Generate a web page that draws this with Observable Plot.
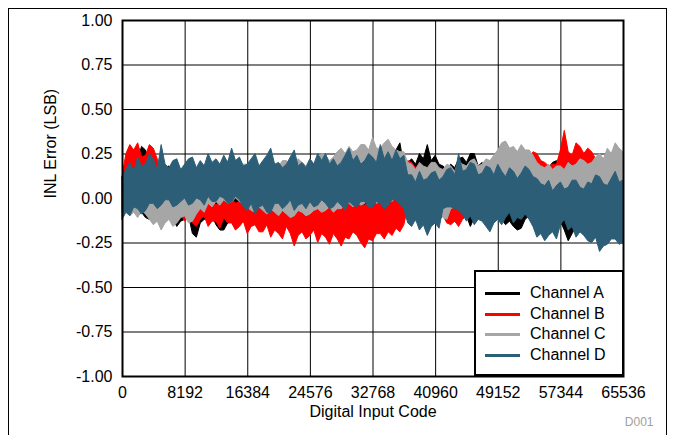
<!DOCTYPE html>
<html>
<head>
<meta charset="utf-8">
<script src="https://cdn.jsdelivr.net/npm/d3@7"></script>
<script src="https://cdn.jsdelivr.net/npm/@observablehq/plot@0.6"></script>
<style>
  html, body { margin: 0; padding: 0; background: #fff; }
  #wrap { position: relative; width: 673px; height: 435px; overflow: hidden; font-family: "Liberation Sans", Arial, sans-serif; }
  #outer { position: absolute; left: 8px; top: 8px; width: 659px; height: 440px; border: 1px solid #000; box-sizing: border-box; }
  #legend { position: absolute; left: 474px; top: 270px; width: 150px; height: 106px; border: 2px solid #000; background: #fff; box-sizing: border-box; }
  .row { position: absolute; left: 0; height: 20px; font-size: 16px; line-height: 20px; color: #000; }
  .sw { position: absolute; left: 9px; top: 9px; width: 35px; height: 3px; }
  .lab { position: absolute; left: 54px; top: 0; white-space: nowrap; }
</style>
</head>
<body>
<div id="wrap">
  <div id="outer"></div>
  <div id="chart"></div>
  <div id="legend"></div>
</div>
<script>
// Sample positions (digital input code), one every 512 codes
const codes = d3.range(0, 65537, 512);

const xTicks = [0, 8192, 16384, 24576, 32768, 40960, 49152, 57344, 65536];
const yTicks = [-1, -0.75, -0.5, -0.25, 0, 0.25, 0.5, 0.75, 1];

const channelNames = ["Channel A", "Channel B", "Channel C", "Channel D"];
const channelColors = ["#000000", "#FF0000", "#A6A6A6", "#2C5E78"];

// Channel A (black): upper / lower envelope of INL error (LSB), 16 samples per 8192 codes
const aHi = [0.12,0.15,0.20,0.17,0.22,0.29,0.27,0.20,0.22,0.18,0.15,0.17,0.18,0.15,0.14,0.16,
             0.16,0.13,0.13,0.15,0.15,0.12,0.12,0.14,0.14,0.16,0.15,0.12,0.13,0.15,0.17,0.14,
             0.14,0.16,0.16,0.13,0.12,0.15,0.15,0.17,0.17,0.14,0.13,0.16,0.16,0.15,0.14,0.17,
             0.18,0.16,0.17,0.15,0.15,0.18,0.19,0.16,0.16,0.19,0.20,0.17,0.18,0.21,0.21,0.19,
             0.19,0.24,0.24,0.21,0.20,0.22,0.27,0.31,0.18,0.20,0.22,0.19,0.25,0.22,0.30,0.21,
             0.24,0.19,0.18,0.16,0.19,0.17,0.22,0.23,0.20,0.25,0.25,0.18,0.20,0.17,0.18,0.17,
             0.20,0.18,0.23,0.21,0.19,0.17,0.20,0.18,0.18,0.16,0.17,0.15,0.18,0.17,0.20,0.21,
             0.16,0.14,0.17,0.15,0.15,0.16,0.16,0.14,0.17,0.15,0.15,0.17,0.18,0.15,0.16,0.14,
             0.14];
const aLo = [-0.06,-0.04,-0.08,-0.06,-0.10,-0.08,-0.11,-0.12,-0.09,-0.07,-0.13,-0.11,-0.10,-0.12,-0.16,-0.13,
             -0.12,-0.10,-0.20,-0.22,-0.14,-0.12,-0.12,-0.10,-0.15,-0.18,-0.18,-0.14,-0.13,-0.11,-0.10,-0.12,
             -0.10,-0.12,-0.12,-0.09,-0.09,-0.11,-0.11,-0.13,-0.13,-0.10,-0.10,-0.12,-0.12,-0.11,-0.11,-0.12,
             -0.12,-0.13,-0.13,-0.12,-0.12,-0.14,-0.14,-0.11,-0.10,-0.12,-0.12,-0.11,-0.11,-0.13,-0.13,-0.12,
             -0.12,-0.10,-0.10,-0.12,-0.12,-0.11,-0.11,-0.10,-0.10,-0.10,-0.10,-0.12,-0.12,-0.11,-0.11,-0.14,
             -0.14,-0.12,-0.10,-0.11,-0.12,-0.13,-0.13,-0.11,-0.10,-0.16,-0.11,-0.10,-0.10,-0.11,-0.12,-0.11,
             -0.10,-0.12,-0.15,-0.13,-0.16,-0.18,-0.17,-0.12,-0.10,-0.12,-0.13,-0.15,-0.15,-0.14,-0.14,-0.13,
             -0.13,-0.18,-0.24,-0.20,-0.16,-0.17,-0.17,-0.18,-0.18,-0.20,-0.20,-0.19,-0.19,-0.20,-0.20,-0.22,
             -0.22];

// Channel B (red)
const bHi = [0.12,0.25,0.30,0.27,0.31,0.23,0.24,0.30,0.28,0.22,0.12,0.08,0.05,0.03,0.00,0.02,
             -0.02,0.00,-0.04,-0.02,-0.05,-0.02,-0.03,-0.01,-0.04,-0.02,-0.01,0.01,0.00,-0.03,-0.02,0.00,
             0.01,-0.02,-0.05,-0.03,-0.02,-0.04,-0.04,-0.02,-0.03,-0.05,-0.06,-0.03,-0.03,-0.05,-0.05,-0.03,
             -0.02,-0.04,-0.04,-0.06,-0.05,-0.03,-0.06,-0.04,-0.04,-0.02,-0.03,-0.01,-0.02,-0.03,-0.04,-0.02,
             -0.01,0.00,-0.03,0.01,0.01,0.02,0.02,0.03,0.00,0.21,0.20,0.17,0.19,0.15,0.17,0.14,
             0.20,0.16,0.15,0.13,0.14,0.12,0.12,0.14,0.15,0.13,0.13,0.15,0.16,0.14,0.14,0.16,
             0.17,0.14,0.15,0.13,0.13,0.15,0.16,0.18,0.20,0.26,0.25,0.21,0.20,0.18,0.19,0.19,
             0.27,0.38,0.26,0.24,0.31,0.29,0.25,0.28,0.26,0.22,0.18,0.17,0.18,0.16,0.20,0.17,
             0.15];
const bLo = [-0.03,-0.06,-0.05,-0.03,-0.04,-0.07,-0.06,-0.09,-0.08,-0.12,-0.10,-0.07,-0.07,-0.10,-0.12,-0.09,
             -0.13,-0.10,-0.14,-0.16,-0.12,-0.10,-0.16,-0.13,-0.13,-0.17,-0.11,-0.14,-0.14,-0.18,-0.16,-0.13,
             -0.20,-0.16,-0.15,-0.19,-0.19,-0.15,-0.22,-0.18,-0.20,-0.23,-0.16,-0.20,-0.27,-0.21,-0.19,-0.23,
             -0.21,-0.18,-0.25,-0.20,-0.22,-0.26,-0.20,-0.23,-0.27,-0.22,-0.23,-0.19,-0.21,-0.25,-0.28,-0.23,
             -0.24,-0.20,-0.20,-0.23,-0.19,-0.21,-0.17,-0.19,-0.15,-0.05,-0.05,-0.03,-0.04,-0.06,-0.03,-0.05,
             -0.06,-0.08,-0.10,-0.14,-0.15,-0.13,-0.16,-0.12,-0.10,-0.06,-0.05,-0.03,-0.02,-0.04,-0.06,-0.03,
             -0.03,-0.05,-0.04,-0.02,-0.02,-0.04,-0.03,-0.01,-0.02,0.00,0.00,-0.02,-0.03,0.00,0.01,-0.01,
             -0.02,-0.01,-0.01,0.00,0.00,-0.02,-0.03,-0.01,-0.01,-0.03,-0.02,-0.04,-0.04,-0.02,-0.03,-0.05,
             -0.05];

// Channel C (gray)
const cHi = [0.10,0.14,0.17,0.13,0.15,0.18,0.18,0.14,0.14,0.17,0.20,0.16,0.15,0.18,0.17,0.15,
             0.14,0.17,0.18,0.15,0.16,0.19,0.19,0.16,0.17,0.15,0.18,0.21,0.20,0.17,0.16,0.19,
             0.19,0.16,0.21,0.18,0.17,0.20,0.20,0.17,0.18,0.21,0.21,0.18,0.19,0.22,0.20,0.18,
             0.22,0.19,0.22,0.25,0.24,0.21,0.23,0.26,0.28,0.25,0.29,0.26,0.27,0.30,0.30,0.27,
             0.34,0.28,0.28,0.31,0.33,0.29,0.27,0.26,0.26,0.20,0.19,0.16,0.20,0.18,0.17,0.20,
             0.20,0.17,0.16,0.19,0.18,0.15,0.21,0.19,0.18,0.21,0.22,0.18,0.19,0.22,0.21,0.24,
             0.27,0.31,0.32,0.28,0.29,0.26,0.30,0.27,0.27,0.24,0.20,0.18,0.17,0.19,0.16,0.18,
             0.18,0.16,0.20,0.18,0.19,0.22,0.21,0.19,0.20,0.23,0.25,0.22,0.28,0.25,0.31,0.28,
             0.26];
const cLo = [-0.08,-0.06,-0.10,-0.08,-0.11,-0.07,-0.09,-0.12,-0.15,-0.13,-0.18,-0.14,-0.12,-0.16,-0.14,-0.11,
             -0.10,-0.14,-0.13,-0.09,-0.06,-0.08,-0.03,-0.05,-0.02,-0.04,-0.01,-0.03,-0.02,0.00,-0.02,-0.04,
             -0.05,-0.07,-0.08,-0.05,-0.07,-0.09,-0.06,-0.08,-0.10,-0.07,-0.09,-0.11,-0.10,-0.07,-0.08,-0.10,
             -0.09,-0.07,-0.06,-0.08,-0.07,-0.05,-0.08,-0.06,-0.06,-0.04,-0.03,-0.05,-0.02,-0.04,-0.03,-0.01,
             -0.01,-0.03,-0.02,0.00,0.00,-0.02,0.01,-0.01,0.00,-0.08,-0.10,-0.13,-0.12,-0.09,-0.09,-0.11,
             -0.10,-0.08,-0.11,-0.12,-0.06,-0.05,-0.05,-0.06,-0.08,-0.10,-0.10,-0.07,-0.07,-0.09,-0.09,-0.06,
             -0.05,-0.07,-0.04,-0.03,-0.06,-0.04,-0.05,-0.07,-0.04,-0.02,-0.06,-0.04,-0.03,-0.05,-0.05,-0.03,
             -0.02,-0.04,-0.04,-0.06,-0.06,-0.03,-0.03,-0.05,-0.05,-0.02,-0.04,-0.06,-0.02,-0.04,-0.05,-0.03,
             -0.03];

// Channel D (teal)
const dHi = [0.12,0.16,0.20,0.15,0.23,0.18,0.19,0.25,0.22,0.16,0.30,0.19,0.17,0.21,0.22,0.16,
             0.19,0.22,0.23,0.17,0.21,0.18,0.25,0.20,0.22,0.19,0.24,0.20,0.28,0.21,0.23,0.18,
             0.19,0.22,0.25,0.18,0.21,0.24,0.28,0.19,0.20,0.17,0.19,0.23,0.27,0.18,0.20,0.17,
             0.22,0.19,0.25,0.21,0.25,0.19,0.22,0.18,0.20,0.24,0.28,0.21,0.24,0.19,0.21,0.25,
             0.23,0.20,0.30,0.22,0.26,0.21,0.27,0.22,0.24,0.13,0.13,0.09,0.15,0.10,0.11,0.14,
             0.15,0.10,0.12,0.16,0.17,0.13,0.25,0.15,0.16,0.20,0.19,0.13,0.14,0.18,0.17,0.13,
             0.19,0.15,0.12,0.17,0.15,0.11,0.14,0.18,0.16,0.12,0.11,0.08,0.07,0.10,0.04,0.07,
             0.09,0.05,0.06,0.10,0.10,0.06,0.05,0.09,0.08,0.13,0.12,0.08,0.07,0.11,0.15,0.09,
             0.10];
const dLo = [-0.12,-0.08,-0.10,-0.05,-0.06,-0.09,-0.07,-0.03,-0.03,-0.06,-0.04,-0.01,-0.01,-0.05,-0.04,-0.02,
             0.00,-0.04,-0.03,0.00,-0.01,-0.04,0.01,-0.02,-0.02,0.01,0.00,-0.03,-0.02,0.01,-0.01,-0.05,
             -0.07,-0.03,-0.09,-0.05,-0.04,-0.08,-0.08,-0.03,-0.03,-0.06,-0.04,-0.01,-0.07,-0.04,-0.03,-0.06,
             -0.02,-0.05,-0.04,-0.01,-0.03,-0.06,-0.05,-0.02,-0.04,-0.07,-0.02,-0.04,-0.05,-0.02,-0.02,-0.05,
             -0.05,-0.02,-0.03,-0.06,-0.04,-0.01,-0.01,-0.04,-0.06,-0.14,-0.16,-0.12,-0.18,-0.15,-0.21,-0.16,
             -0.14,-0.17,-0.06,-0.05,-0.05,-0.06,-0.07,-0.09,-0.13,-0.10,-0.15,-0.12,-0.13,-0.16,-0.19,-0.14,
             -0.12,-0.15,-0.11,-0.08,-0.14,-0.11,-0.12,-0.09,-0.12,-0.16,-0.22,-0.20,-0.24,-0.21,-0.19,-0.23,
             -0.15,-0.12,-0.18,-0.16,-0.22,-0.19,-0.21,-0.24,-0.25,-0.22,-0.30,-0.27,-0.26,-0.23,-0.23,-0.26,
             -0.25];

const his = [aHi, bHi, cHi, dHi];
const los = [aLo, bLo, cLo, dLo];

const channelMarks = channelNames.map((name, k) => {
  const rows = codes.map((x, i) => ({x, hi: his[k][i], lo: los[k][i]}));
  return Plot.areaY(rows, {x: "x", y1: "lo", y2: "hi", fill: channelColors[k], stroke: channelColors[k], strokeWidth: 1});
});

const chart = Plot.plot({
  width: 673,
  height: 435,
  marginLeft: 122,
  marginRight: 50,
  marginTop: 20,
  marginBottom: 59,
  style: {fontFamily: "'Liberation Sans', Arial, sans-serif", fontSize: "16px", background: "transparent", overflow: "visible"},
  x: {domain: [0, 65536]},
  y: {domain: [-1, 1]},
  marks: [
    Plot.ruleY(yTicks.slice(1, -1), {stroke: "#000", strokeWidth: 1}),
    Plot.ruleX(xTicks.slice(1, -1), {stroke: "#000", strokeWidth: 1}),
    ...channelMarks,
    Plot.frame({stroke: "#000", strokeWidth: 2}),
    Plot.axisY(yTicks, {tickSize: 0, tickPadding: 10, tickFormat: d => d.toFixed(2), fontSize: 16, label: null}),
    Plot.axisX(xTicks, {tickSize: 0, tickPadding: 10, tickFormat: d => String(d), fontSize: 16, label: null}),
    Plot.text(["Digital Input Code"], {frameAnchor: "bottom", dy: 40, fontSize: 16, fill: "#000"}),
    Plot.text(["INL Error (LSB)"], {frameAnchor: "left", dx: -72, rotate: -90, fontSize: 16, fill: "#000"}),
    Plot.text(["D001"], {frameAnchor: "bottom-right", dx: 30, dy: 49, fontSize: 12, fill: "#A0A0A0"})
  ]
});
document.getElementById("chart").appendChild(chart);

// Legend
const legend = document.getElementById("legend");
channelNames.forEach((name, k) => {
  const row = document.createElement("div");
  row.className = "row";
  row.style.top = (11 + k * 20.5) + "px";
  row.style.width = "146px";
  const sw = document.createElement("div");
  sw.className = "sw";
  sw.style.background = channelColors[k];
  const lab = document.createElement("div");
  lab.className = "lab";
  lab.textContent = name;
  row.appendChild(sw);
  row.appendChild(lab);
  legend.appendChild(row);
});
</script>
</body>
</html>
